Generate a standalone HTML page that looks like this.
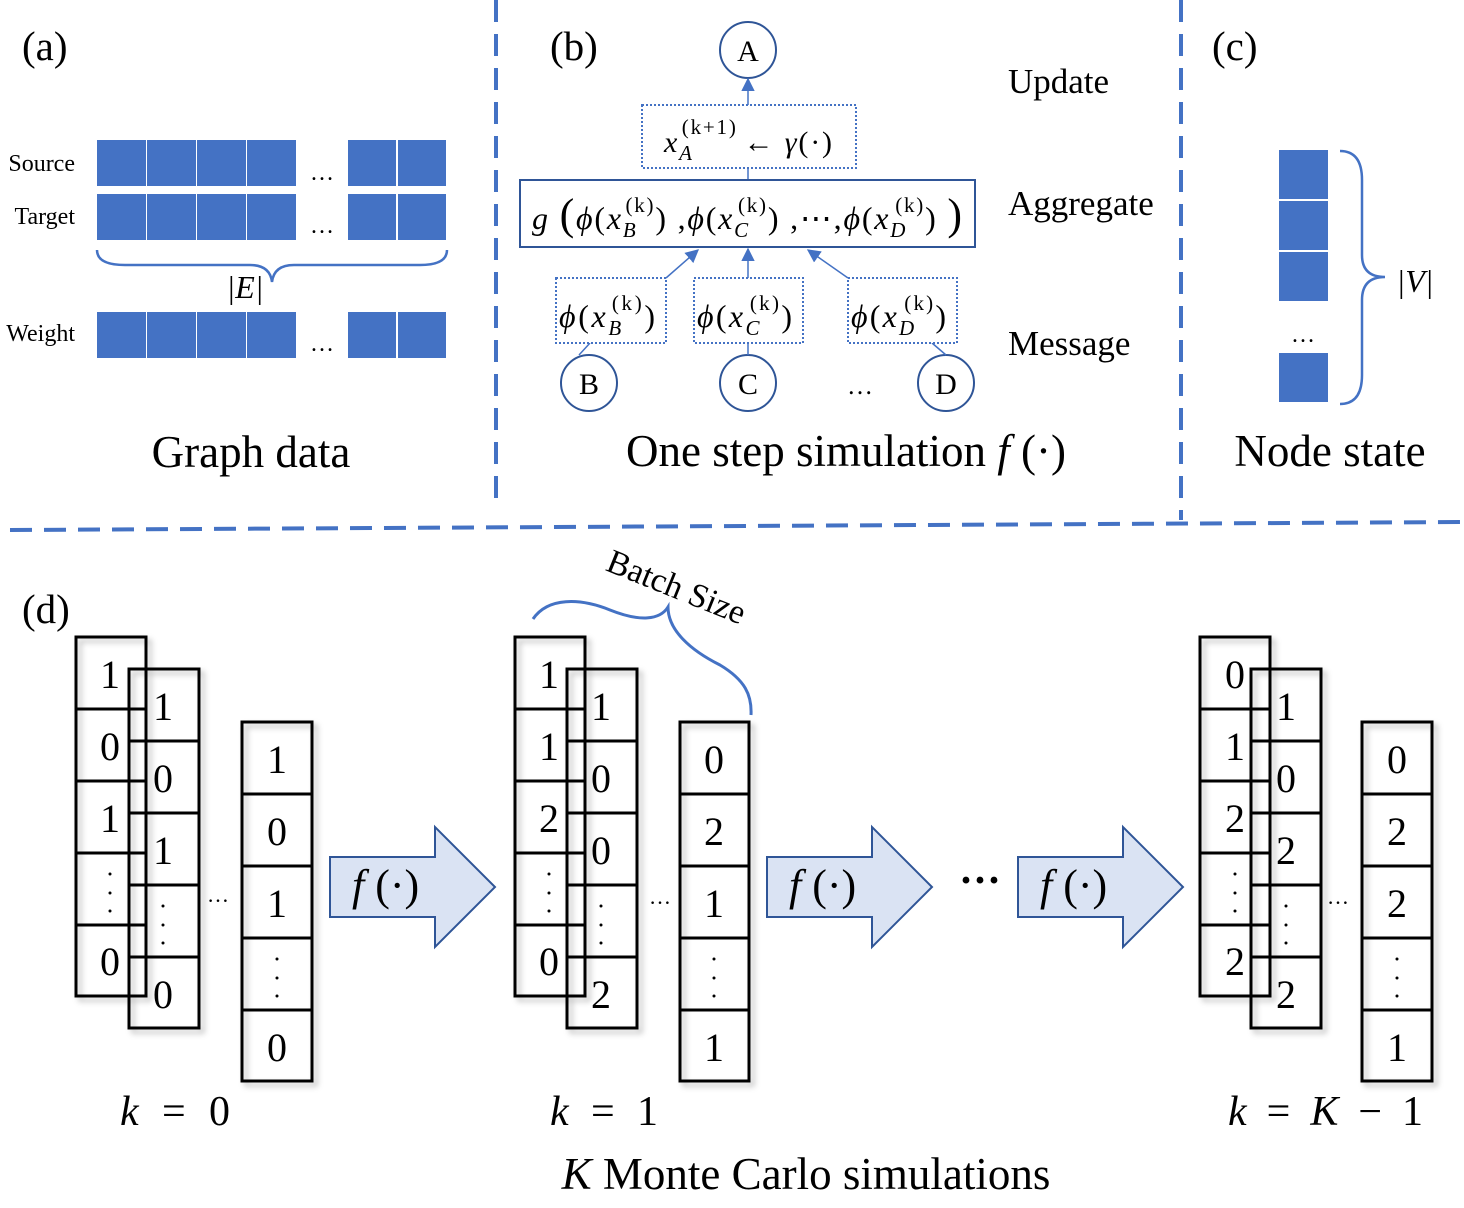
<!DOCTYPE html>
<html><head><meta charset="utf-8"><style>
html,body{margin:0;padding:0;background:#fff}
svg{display:block}
text{font-family:"Liberation Serif",serif;fill:#000}
.it{font-style:italic}
</style></head><body>
<svg width="1464" height="1208" viewBox="0 0 1464 1208" xmlns="http://www.w3.org/2000/svg">
<defs>
<filter id="sh" x="-20%" y="-20%" width="150%" height="150%"><feDropShadow dx="4" dy="4" stdDeviation="3" flood-color="#000" flood-opacity="0.25"/></filter>
<marker id="ah" viewBox="0 0 10 10" refX="9" refY="5" markerWidth="9" markerHeight="9" orient="auto"><path d="M0,0 L10,5 L0,10 z" fill="#4472C4"/></marker>
</defs>
<g stroke="#4472C4" stroke-width="4" stroke-dasharray="22,12" fill="none">
<line x1="496" y1="0" x2="496" y2="500"/>
<line x1="1181" y1="0" x2="1181" y2="520"/>
<line x1="10" y1="530" x2="1464" y2="522"/>
</g>
<!-- (a) -->
<text x="22" y="60" font-size="41">(a)</text>
<g fill="#4472C4">
<rect x="97" y="140" width="49" height="46"/><rect x="147" y="140" width="49" height="46"/><rect x="197" y="140" width="49" height="46"/><rect x="247" y="140" width="49" height="46"/><rect x="348" y="140" width="48" height="46"/><rect x="398" y="140" width="48" height="46"/>
<rect x="97" y="194" width="49" height="46"/><rect x="147" y="194" width="49" height="46"/><rect x="197" y="194" width="49" height="46"/><rect x="247" y="194" width="49" height="46"/><rect x="348" y="194" width="48" height="46"/><rect x="398" y="194" width="48" height="46"/>
<rect x="97" y="312" width="49" height="46"/><rect x="147" y="312" width="49" height="46"/><rect x="197" y="312" width="49" height="46"/><rect x="247" y="312" width="49" height="46"/><rect x="348" y="312" width="48" height="46"/><rect x="398" y="312" width="48" height="46"/>
</g>
<text x="75" y="171" font-size="24" text-anchor="end">Source</text>
<text x="75" y="224" font-size="24" text-anchor="end">Target</text>
<text x="75" y="341" font-size="24" text-anchor="end">Weight</text>
<text x="322" y="180" font-size="24" text-anchor="middle">…</text>
<text x="322" y="233" font-size="24" text-anchor="middle">…</text>
<text x="322" y="351" font-size="24" text-anchor="middle">…</text>
<path d="M97,250 Q97,265 125,265 L250,265 Q270,265 272,282 Q274,265 294,265 L420,265 Q447,265 447,250" stroke="#4472C4" stroke-width="2.5" fill="none"/>
<text x="245" y="298" font-size="32" text-anchor="middle" class="it">|E|</text>
<text x="251" y="467" font-size="45" text-anchor="middle">Graph data</text>
<!-- (b) -->
<text x="550" y="60" font-size="41">(b)</text>
<g stroke="#2F5597" stroke-width="2" fill="#fff">
<circle cx="748" cy="50" r="28"/><circle cx="589" cy="383" r="28"/><circle cx="748" cy="383" r="28"/><circle cx="946" cy="383" r="28"/>
</g>
<text x="748" y="61" font-size="30" text-anchor="middle">A</text>
<text x="589" y="394" font-size="30" text-anchor="middle">B</text>
<text x="748" y="394" font-size="30" text-anchor="middle">C</text>
<text x="946" y="394" font-size="30" text-anchor="middle">D</text>
<text x="860" y="394" font-size="26" text-anchor="middle">…</text>
<g stroke="#4472C4" stroke-width="1.5" fill="none">
<line x1="748" y1="105" x2="748" y2="79" marker-end="url(#ah)"/>
<line x1="748" y1="168" x2="748" y2="180"/>
<line x1="666" y1="278" x2="698" y2="250" marker-end="url(#ah)"/>
<line x1="748" y1="278" x2="748" y2="249" marker-end="url(#ah)"/>
<line x1="848" y1="278" x2="808" y2="250" marker-end="url(#ah)"/>
<line x1="590" y1="343" x2="579" y2="355"/>
<line x1="748" y1="343" x2="748" y2="355"/>
<line x1="932" y1="343" x2="946" y2="355"/>
</g>
<g stroke="#4472C4" stroke-width="2" stroke-dasharray="2,2" fill="#fff">
<rect x="642" y="105" width="214" height="63"/>
<rect x="556" y="278" width="110" height="65"/>
<rect x="694" y="278" width="109" height="65"/>
<rect x="848" y="278" width="109" height="65"/>
</g>
<rect x="520" y="180" width="455" height="67" stroke="#2F5597" stroke-width="2" fill="#fff"/>
<text x="664" y="152" font-size="30" class="it" textLength="168" lengthAdjust="spacing">x<tspan font-size="21" dy="8">A</tspan><tspan font-size="21" dx="-12" dy="-26" font-style="normal">(k+1)</tspan><tspan font-size="30" dy="18" dx="6" font-style="normal">← </tspan>γ<tspan font-style="normal">(·)</tspan></text>
<text x="532" y="229" font-size="32" class="it" textLength="430" lengthAdjust="spacing">g <tspan font-size="44" font-style="normal">(</tspan>ϕ<tspan font-style="normal">(</tspan>x<tspan font-size="21" dy="8">B</tspan><tspan font-size="21" dx="-12" dy="-25" font-style="normal">(k)</tspan><tspan dy="17" font-style="normal">) ,</tspan>ϕ<tspan font-style="normal">(</tspan>x<tspan font-size="21" dy="8">C</tspan><tspan font-size="21" dx="-12" dy="-25" font-style="normal">(k)</tspan><tspan dy="17" font-style="normal">) ,⋯,</tspan>ϕ<tspan font-style="normal">(</tspan>x<tspan font-size="21" dy="8">D</tspan><tspan font-size="21" dx="-12" dy="-25" font-style="normal">(k)</tspan><tspan dy="17" font-style="normal">) </tspan><tspan font-size="44" font-style="normal">)</tspan></text>
<text x="559" y="327" font-size="32" class="it" textLength="96" lengthAdjust="spacing">ϕ<tspan font-style="normal">(</tspan>x<tspan font-size="21" dy="8">B</tspan><tspan font-size="21" dx="-12" dy="-25" font-style="normal">(k)</tspan><tspan dy="17" font-style="normal">)</tspan></text>
<text x="697" y="327" font-size="32" class="it" textLength="95" lengthAdjust="spacing">ϕ<tspan font-style="normal">(</tspan>x<tspan font-size="21" dy="8">C</tspan><tspan font-size="21" dx="-12" dy="-25" font-style="normal">(k)</tspan><tspan dy="17" font-style="normal">)</tspan></text>
<text x="851" y="327" font-size="32" class="it" textLength="95" lengthAdjust="spacing">ϕ<tspan font-style="normal">(</tspan>x<tspan font-size="21" dy="8">D</tspan><tspan font-size="21" dx="-12" dy="-25" font-style="normal">(k)</tspan><tspan dy="17" font-style="normal">)</tspan></text>
<text x="1008" y="93" font-size="35">Update</text>
<text x="1008" y="215" font-size="35">Aggregate</text>
<text x="1008" y="355" font-size="35">Message</text>
<text x="846" y="466" font-size="45" text-anchor="middle">One step simulation <tspan class="it">f</tspan> (·)</text>
<!-- (c) -->
<text x="1212" y="60" font-size="41">(c)</text>
<g fill="#4472C4">
<rect x="1279" y="150" width="49" height="49"/><rect x="1279" y="201" width="49" height="49"/><rect x="1279" y="252" width="49" height="49"/><rect x="1279" y="353" width="49" height="49"/>
</g>
<text x="1303" y="342" font-size="24" text-anchor="middle">…</text>
<path d="M1340,151 Q1362,151 1362,180 L1362,255 Q1362,277 1385,277 Q1362,277 1362,300 L1362,375 Q1362,404 1340,404" stroke="#4472C4" stroke-width="2.5" fill="none"/>
<text x="1415" y="292" font-size="32" text-anchor="middle" class="it">|V|</text>
<text x="1330" y="466" font-size="45" text-anchor="middle">Node state</text>
<!-- (d) -->
<text x="22" y="623" font-size="41">(d)</text>
<g stroke="#000" stroke-width="3" fill="none" filter="url(#sh)">
<rect x="76" y="637" width="70" height="359"/><rect x="129" y="669" width="70" height="359"/><rect x="242" y="722" width="70" height="359"/>
<rect x="515" y="637" width="70" height="359"/><rect x="567" y="669" width="70" height="359"/><rect x="680" y="722" width="69" height="359"/>
<rect x="1200" y="637" width="70" height="359"/><rect x="1251" y="669" width="70" height="359"/><rect x="1362" y="722" width="70" height="359"/>
</g>
<g stroke="#000" stroke-width="3">
<line x1="76" y1="709" x2="146" y2="709"/><line x1="76" y1="781" x2="146" y2="781"/><line x1="76" y1="853" x2="146" y2="853"/><line x1="76" y1="925" x2="146" y2="925"/>
<line x1="129" y1="741" x2="199" y2="741"/><line x1="129" y1="813" x2="199" y2="813"/><line x1="129" y1="885" x2="199" y2="885"/><line x1="129" y1="957" x2="199" y2="957"/>
<line x1="242" y1="794" x2="312" y2="794"/><line x1="242" y1="866" x2="312" y2="866"/><line x1="242" y1="938" x2="312" y2="938"/><line x1="242" y1="1010" x2="312" y2="1010"/>
<line x1="515" y1="709" x2="585" y2="709"/><line x1="515" y1="781" x2="585" y2="781"/><line x1="515" y1="853" x2="585" y2="853"/><line x1="515" y1="925" x2="585" y2="925"/>
<line x1="567" y1="741" x2="637" y2="741"/><line x1="567" y1="813" x2="637" y2="813"/><line x1="567" y1="885" x2="637" y2="885"/><line x1="567" y1="957" x2="637" y2="957"/>
<line x1="680" y1="794" x2="749" y2="794"/><line x1="680" y1="866" x2="749" y2="866"/><line x1="680" y1="938" x2="749" y2="938"/><line x1="680" y1="1010" x2="749" y2="1010"/>
<line x1="1200" y1="709" x2="1270" y2="709"/><line x1="1200" y1="781" x2="1270" y2="781"/><line x1="1200" y1="853" x2="1270" y2="853"/><line x1="1200" y1="925" x2="1270" y2="925"/>
<line x1="1251" y1="741" x2="1321" y2="741"/><line x1="1251" y1="813" x2="1321" y2="813"/><line x1="1251" y1="885" x2="1321" y2="885"/><line x1="1251" y1="957" x2="1321" y2="957"/>
<line x1="1362" y1="794" x2="1432" y2="794"/><line x1="1362" y1="866" x2="1432" y2="866"/><line x1="1362" y1="938" x2="1432" y2="938"/><line x1="1362" y1="1010" x2="1432" y2="1010"/>
</g>
<g font-size="40" text-anchor="middle">
<text x="110" y="688">1</text><text x="110" y="760">0</text><text x="110" y="832">1</text><text x="110" y="975">0</text>
<text x="163" y="720">1</text><text x="163" y="792">0</text><text x="163" y="864">1</text><text x="163" y="1008">0</text>
<text x="277" y="773">1</text><text x="277" y="845">0</text><text x="277" y="917">1</text><text x="277" y="1061">0</text>
<text x="549" y="688">1</text><text x="549" y="760">1</text><text x="549" y="832">2</text><text x="549" y="975">0</text>
<text x="601" y="720">1</text><text x="601" y="792">0</text><text x="601" y="864">0</text><text x="601" y="1008">2</text>
<text x="714" y="773">0</text><text x="714" y="845">2</text><text x="714" y="917">1</text><text x="714" y="1061">1</text>
<text x="1235" y="688">0</text><text x="1235" y="760">1</text><text x="1235" y="832">2</text><text x="1235" y="975">2</text>
<text x="1286" y="720">1</text><text x="1286" y="792">0</text><text x="1286" y="864">2</text><text x="1286" y="1008">2</text>
<text x="1397" y="773">0</text><text x="1397" y="845">2</text><text x="1397" y="917">2</text><text x="1397" y="1061">1</text>
</g>
<g fill="#000">
<circle cx="110" cy="874" r="1.5"/><circle cx="110" cy="893" r="1.5"/><circle cx="110" cy="911" r="1.5"/>
<circle cx="163" cy="906" r="1.5"/><circle cx="163" cy="925" r="1.5"/><circle cx="163" cy="943" r="1.5"/>
<circle cx="277" cy="959" r="1.5"/><circle cx="277" cy="978" r="1.5"/><circle cx="277" cy="996" r="1.5"/>
<circle cx="549" cy="874" r="1.5"/><circle cx="549" cy="893" r="1.5"/><circle cx="549" cy="911" r="1.5"/>
<circle cx="601" cy="906" r="1.5"/><circle cx="601" cy="925" r="1.5"/><circle cx="601" cy="943" r="1.5"/>
<circle cx="714" cy="959" r="1.5"/><circle cx="714" cy="978" r="1.5"/><circle cx="714" cy="996" r="1.5"/>
<circle cx="1235" cy="874" r="1.5"/><circle cx="1235" cy="893" r="1.5"/><circle cx="1235" cy="911" r="1.5"/>
<circle cx="1286" cy="906" r="1.5"/><circle cx="1286" cy="925" r="1.5"/><circle cx="1286" cy="943" r="1.5"/>
<circle cx="1397" cy="959" r="1.5"/><circle cx="1397" cy="978" r="1.5"/><circle cx="1397" cy="996" r="1.5"/>
</g>
<text x="218" y="902" font-size="22" text-anchor="middle">…</text>
<text x="660" y="904" font-size="22" text-anchor="middle">…</text>
<text x="1338" y="904" font-size="22" text-anchor="middle">…</text>
<g fill="#DAE3F3" stroke="#2F5597" stroke-width="2">
<path d="M330,857 L435,857 L435,827 L495,887 L435,947 L435,917 L330,917 Z"/>
<path d="M767,857 L872,857 L872,827 L932,887 L872,947 L872,917 L767,917 Z"/>
<path d="M1018,857 L1123,857 L1123,827 L1183,887 L1123,947 L1123,917 L1018,917 Z"/>
</g>
<g font-size="44"><text x="352" y="900"><tspan class="it">f</tspan> (·)</text><text x="789" y="900"><tspan class="it">f</tspan> (·)</text><text x="1040" y="900"><tspan class="it">f</tspan> (·)</text></g>
<text x="980" y="894" font-size="42" font-weight="bold" text-anchor="middle">···</text>
<path d="M533,619 C548,597 580,598 610,610 C640,622 660,620 668,607 C668,630 690,650 720,665 C745,680 752,695 751,715" stroke="#4472C4" stroke-width="3" fill="none"/>
<text x="676" y="598" font-size="34" text-anchor="middle" transform="rotate(22 676 588)">Batch Size</text>
<g font-size="42" class="it"><text x="120" y="1125" textLength="110" lengthAdjust="spacing">k <tspan font-style="normal">= 0</tspan></text><text x="550" y="1125" textLength="108" lengthAdjust="spacing">k <tspan font-style="normal">= 1</tspan></text><text x="1228" y="1125" textLength="195" lengthAdjust="spacing">k <tspan font-style="normal">= </tspan>K<tspan font-style="normal"> − 1</tspan></text></g>
<text x="806" y="1189" font-size="45" text-anchor="middle"><tspan class="it">K</tspan> Monte Carlo simulations</text>
</svg>
</body></html>
